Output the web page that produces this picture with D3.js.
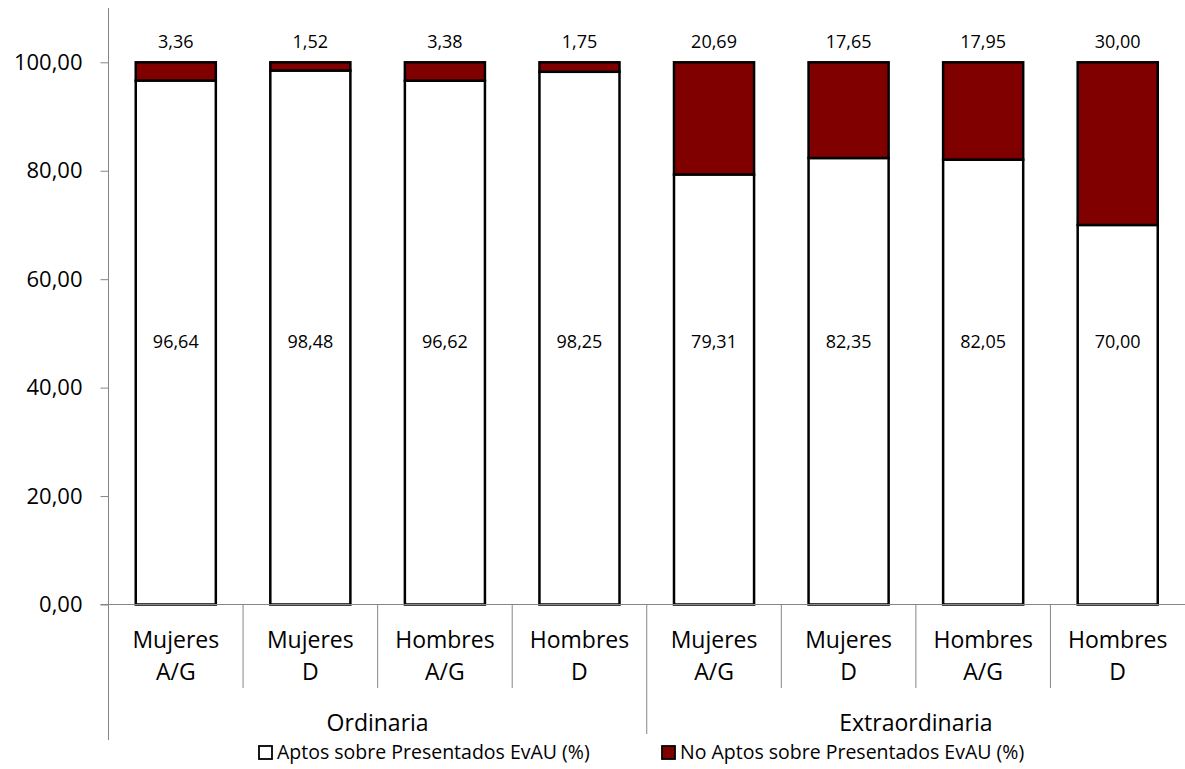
<!DOCTYPE html>
<html>
<head>
<meta charset="utf-8">
<script src="https://cdn.jsdelivr.net/npm/d3@7"></script>
<style>
  html, body { margin: 0; padding: 0; background: #fff; }
  svg { display: block; font-family: "Open Sans", Carlito, Calibri, sans-serif; }
</style>
</head>
<body>
<svg id="chart" width="1185" height="769"></svg>
<script>
// ---- data ----
const categories = ["Mujeres A/G", "Mujeres D", "Hombres A/G", "Hombres D",
                    "Mujeres A/G", "Mujeres D", "Hombres A/G", "Hombres D"];
const categoryLines = [["Mujeres", "A/G"], ["Mujeres", "D"], ["Hombres", "A/G"], ["Hombres", "D"],
                       ["Mujeres", "A/G"], ["Mujeres", "D"], ["Hombres", "A/G"], ["Hombres", "D"]];
const groups = ["Ordinaria", "Extraordinaria"];
const groupOf = [0, 0, 0, 0, 1, 1, 1, 1];
const aptos = [96.64, 98.48, 96.62, 98.25, 79.31, 82.35, 82.05, 70.00];
const noAptos = [3.36, 1.52, 3.38, 1.75, 20.69, 17.65, 17.95, 30.00];
const seriesNames = ["Aptos sobre Presentados EvAU (%)", "No Aptos sobre Presentados EvAU (%)"];
const seriesColors = ["#ffffff", "#800000"];
const yTicks = [0, 20, 40, 60, 80, 100];

// ---- layout ----
(function () {
const svg = d3.select("#chart");
const pLeft = 108.5, pRight = 1185, pTop = 62.3, pBottom = 604.5;
const fmt = v => d3.format(".2f")(v).replace(".", ",");

const x = d3.scaleBand().domain(d3.range(categories.length)).range([pLeft, pRight])
  .paddingInner(0.405).paddingOuter(0.2025);
const y = d3.scaleLinear().domain([0, 100]).range([pBottom, pTop]);

const axisColor = "#868686";

// y axis
const yAxis = svg.append("g").attr("transform", `translate(${pLeft},0)`)
  .call(d3.axisLeft(y).tickValues(yTicks).tickSize(8).tickPadding(18).tickFormat(fmt));
yAxis.select(".domain").remove();
yAxis.selectAll(".tick line").attr("stroke", axisColor);
yAxis.selectAll(".tick text").attr("font-size", 22).attr("fill", "#000")
  .attr("font-family", "'Open Sans', sans-serif");
svg.append("line").attr("x1", pLeft).attr("x2", pLeft).attr("y1", 8).attr("y2", 740)
  .attr("stroke", axisColor).attr("stroke-width", 1);

// bars
const stack = categories.map((c, i) => ({ i, a: aptos[i], n: noAptos[i] }));
const barG = svg.append("g");
barG.selectAll("rect.apt").data(stack).join("rect")
  .attr("x", d => x(d.i)).attr("width", x.bandwidth())
  .attr("y", d => y(d.a)).attr("height", d => y(0) - y(d.a))
  .attr("fill", seriesColors[0]).attr("stroke", "#000").attr("stroke-width", 2.5);
barG.selectAll("rect.no").data(stack).join("rect")
  .attr("x", d => x(d.i)).attr("width", x.bandwidth())
  .attr("y", d => y(d.a + d.n)).attr("height", d => y(d.a) - y(d.a + d.n))
  .attr("fill", seriesColors[1]).attr("stroke", "#000").attr("stroke-width", 2.5);

// x axis baseline
svg.append("line").attr("x1", pLeft - 8).attr("x2", pRight).attr("y1", y(0)).attr("y2", y(0))
  .attr("stroke", axisColor).attr("stroke-width", 1);

// labels
const lblG = svg.append("g").attr("font-size", 18).attr("text-anchor", "middle").attr("fill", "#000");
lblG.selectAll("text.mid").data(stack).join("text")
  .attr("x", d => x(d.i) + x.bandwidth() / 2).attr("y", y(48.5)).attr("dy", "0.35em")
  .text(d => fmt(d.a));
lblG.selectAll("text.top").data(stack).join("text")
  .attr("x", d => x(d.i) + x.bandwidth() / 2).attr("y", y(100) - 21).attr("dy", "0.35em")
  .text(d => fmt(d.n));

// category dividers
const step = x.step();
for (let k = 1; k < categories.length; k++) {
  const xx = pLeft + k * step;
  const isGroupStart = groupOf[k] !== groupOf[k - 1];
  svg.append("line").attr("x1", xx).attr("x2", xx).attr("y1", y(0))
    .attr("y2", isGroupStart ? 734 : 688).attr("stroke", axisColor).attr("stroke-width", 1);
}

// category labels
const catG = svg.append("g").attr("font-size", 23).attr("text-anchor", "middle");
categoryLines.forEach((lines, i) => {
  const cx = x(i) + x.bandwidth() / 2;
  const t = catG.append("text").attr("x", cx).attr("y", 640);
  lines.forEach((ln, j) => t.append("tspan").attr("x", cx)
    .attr("dy", j === 0 ? "0.35em" : 32).text(ln));
});

// group labels
groups.forEach((g, gi) => {
  const idx = groupOf.map((v, i) => v === gi ? i : -1).filter(i => i >= 0);
  const x0 = pLeft + idx[0] * step, x1 = pLeft + (idx[idx.length - 1] + 1) * step;
  svg.append("text").attr("x", (x0 + x1) / 2).attr("y", 723).attr("dy", "0.35em")
    .attr("text-anchor", "middle").attr("font-size", 23).text(g);
});

// legend
const legX = [259, 662];
seriesNames.forEach((s, i) => {
  svg.append("rect").attr("x", legX[i]).attr("y", 746).attr("width", 13).attr("height", 13)
    .attr("fill", seriesColors[i]).attr("stroke", "#000").attr("stroke-width", 1.8);
  svg.append("text").attr("x", legX[i] + 18).attr("y", 752.5).attr("dy", "0.35em")
    .attr("font-size", 19.5).text(s);
});
})();
</script>
</body>
</html>
